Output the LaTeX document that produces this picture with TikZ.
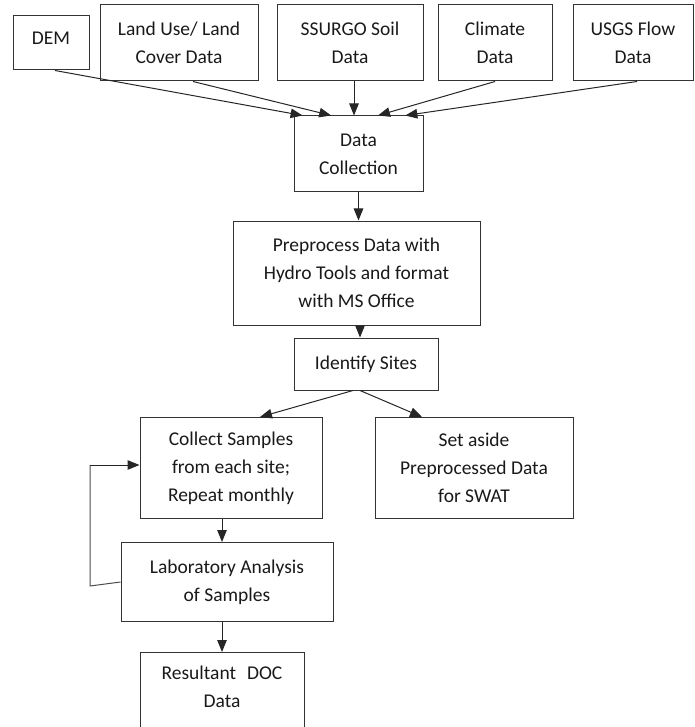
\documentclass[tikz,border=0pt]{standalone}
\usepackage{fontspec}
\setmainfont{Carlito}
\usetikzlibrary{arrows.meta,calc}
\tikzset{
  box/.style={draw=black!80, line width=1pt, align=center, inner sep=0pt,
    font=\fontsize{19.5}{28}\selectfont, text=black!90},
  arr/.style={draw=black!85, line width=1pt, -{Triangle[length=12pt,width=9.5pt]}},
  ln/.style={draw=black!70, line width=1pt}
}
\begin{document}
\begin{tikzpicture}[x=1pt,y=-1pt]
\useasboundingbox (0,0) rectangle (694,727);
\clip (0,0) rectangle (694,727);
% top row
\node[box, minimum width=76, minimum height=54, text depth=10pt] (dem) at (51,43) {DEM};
\node[box, minimum width=158, minimum height=76] (lu) at (179,43) {Land Use/ Land\\Cover Data};
\node[box, minimum width=146, minimum height=76] (ss) at (350,43) {SSURGO Soil\\Data};
\node[box, minimum width=114, minimum height=76] (cl) at (495,43) {Climate\\Data};
\node[box, minimum width=120, minimum height=76] (us) at (633,43) {USGS Flow\\Data};
% middle
\node[box, minimum width=129, minimum height=76] (dc) at (358.5,154) {Data\\Collection};
\node[box, minimum width=247, minimum height=104] (pre) at (356.5,273) {Preprocess Data with\\Hydro Tools and format\\with MS Office};
\node[box, minimum width=144, minimum height=52] (id) at (366,364) {Identify Sites};
\node[box, minimum width=182, minimum height=101] (col) at (231,468) {Collect Samples\\from each site;\\Repeat monthly};
\node[box, minimum width=198, minimum height=101] (set) at (474,468) {Set aside\\Preprocessed Data\\for SWAT};
\node[box, minimum width=212, minimum height=79] (lab) at (227,582) {Laboratory Analysis\\of Samples};
\node[box, minimum width=164, anchor=north, inner ysep=13pt, text depth=60pt] (res) at (222,652) {Resultant\,\, DOC\\Data};
% arrows into data collection
\draw[arr] ([xshift=4pt]dem.south) -- ($(dc.north west)!0.07!(dc.north east)$);
\draw[arr] ([xshift=14pt]lu.south) -- ($(dc.north west)!0.29!(dc.north east)$);
\draw[arr] ([xshift=4pt]ss.south) -- ([xshift=4pt]ss.south |- dc.north);
\draw[arr] (cl.south) -- ($(dc.north west)!0.65!(dc.north east)$);
\draw[arr] ([xshift=4pt]us.south) -- ($(dc.north west)!0.86!(dc.north east)$);
\draw[arr] (dc.south) -- (dc.south |- pre.north);
\draw[arr] ([xshift=3.5pt]pre.south) -- ([xshift=3.5pt]pre.south |- id.north);
\draw[arr] ([xshift=-13pt]id.south) -- ([xshift=29pt]col.north);
\draw[arr] ([xshift=-6pt]id.south) -- ([xshift=-52pt]set.north);
\draw[arr] ([xshift=-9pt]col.south) -- ([xshift=-9pt]col.south |- lab.north);
\draw[arr] ([xshift=-5pt]lab.south) -- (res.north);
% feedback loop
\coordinate (fb1) at (90,586);
\coordinate (fb2) at (90,465);
\draw[ln] (lab.west) -- (fb1) -- (fb2);
\draw[arr] (fb2) -- (fb2 -| col.west);
\end{tikzpicture}
\end{document}
